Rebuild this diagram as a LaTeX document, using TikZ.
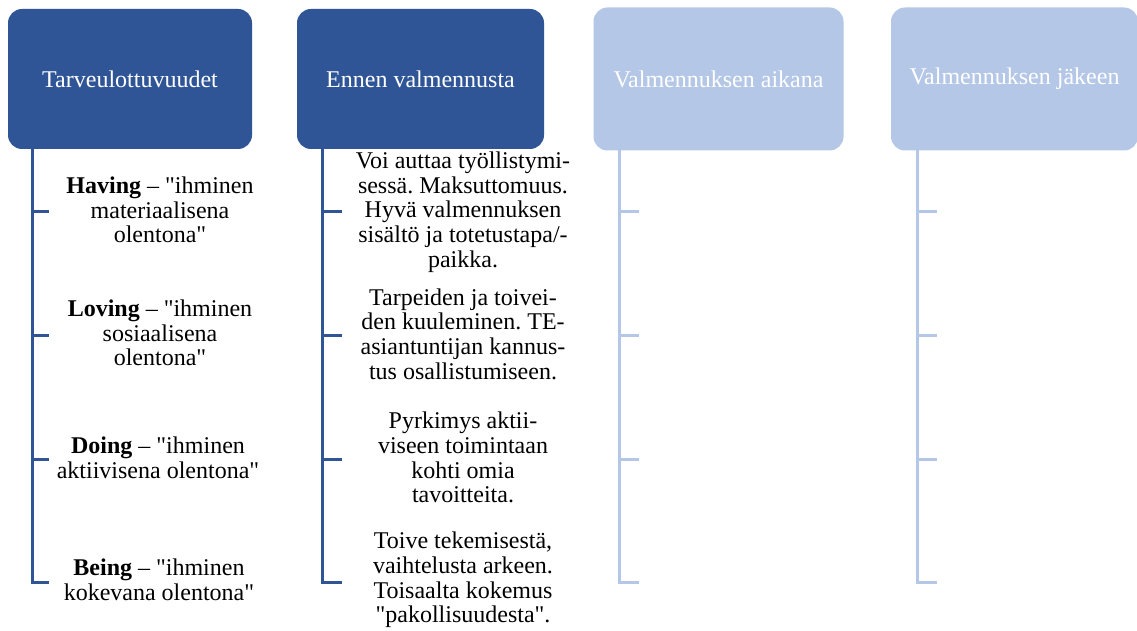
\documentclass[tikz,border=0pt]{standalone}
\usepackage{fontspec}
\setmainfont{Liberation Serif}[Ligatures=TeXOff]
\definecolor{darkblue}{RGB}{47,85,151}
\definecolor{lightblue}{RGB}{180,199,231}
\frenchspacing

\begin{document}
\begin{tikzpicture}[x=1pt,y=-1pt,
  head/.style={rounded corners=14pt, inner sep=0pt, text=white,
    font=\fontsize{24}{25}\selectfont},
  item/.style={align=center, inner sep=0pt,
    font=\fontsize{24}{24.7}\selectfont},
  darkconn/.style={draw=darkblue, line width=3pt},
  lightconn/.style={draw=lightblue, line width=3pt}]
\useasboundingbox (0,0) rectangle (1137,631);
\fill[white] (0,0) rectangle (1137,631);

% tops of the four branch lines
\coordinate (r1) at (32,140);
\coordinate (r2) at (322,140);
\coordinate (r3) at (619,140);
\coordinate (r4) at (917,140);

% tick ends of every branch
\foreach \c/\x in {1/49,2/342,3/639,4/937}{
  \coordinate (k\c a) at (\x,211);
  \coordinate (k\c b) at (\x,335);
  \coordinate (k\c c) at (\x,459);
  \coordinate (k\c d) at (\x,582);
}

% branch connectors
\foreach \t in {a,b,c,d}{
  \draw[darkconn] (r1) |- (k1\t);
  \draw[darkconn] (r2) |- (k2\t);
  \draw[lightconn] (r3) |- (k3\t);
  \draw[lightconn] (r4) |- (k4\t);
}

% column headers
\node[head, fill=darkblue, minimum width=244pt, minimum height=140pt]
  (h1) at (130,79) {Tarveulottuvuudet};
\node[head, fill=darkblue, minimum width=247pt, minimum height=140pt]
  (h2) at (420.5,79) {Ennen valmennusta};
\node[head, fill=lightblue, minimum width=250pt, minimum height=143pt]
  (h3) at (718.5,79) {Valmennuksen aikana};
\node[head, fill=lightblue, minimum width=247pt, minimum height=143pt]
  (h4) at (1014.5,79) {Valmennuksen jäkeen};

% first column entries
\node[item] (n1a) at (160,210) {\textbf{Having} – "ihminen\\materiaalisena\\olentona"};
\node[item] (n1b) at (160,333) {\textbf{Loving} – "ihminen\\sosiaalisena\\olentona"};
\node[item] (n1c) at (158,458) {\textbf{Doing} – "ihminen\\aktiivisena olentona"};
\node[item] (n1d) at (159,580) {\textbf{Being} – "ihminen\\kokevana olentona"};

% second column entries
\node[item] (n2a) at (463,212) {Voi auttaa työllistymi-\\sessä. Maksuttomuus.\\Hyvä valmennuksen\\sisältö ja totetustapa/-\\paikka.};
\node[item] (n2b) at (463,334) {Tarpeiden ja toivei-\\den kuuleminen. TE-\\asiantuntijan kannus-\\tus osallistumiseen.};
\node[item] (n2c) at (463,457.5) {Pyrkimys aktii-\\viseen toimintaan\\kohti omia\\tavoitteita.};
\node[item] (n2d) at (463,580) {Toive tekemisestä,\\vaihtelusta arkeen.\\Toisaalta kokemus\\"pakollisuudesta".};
\end{tikzpicture}
\end{document}
